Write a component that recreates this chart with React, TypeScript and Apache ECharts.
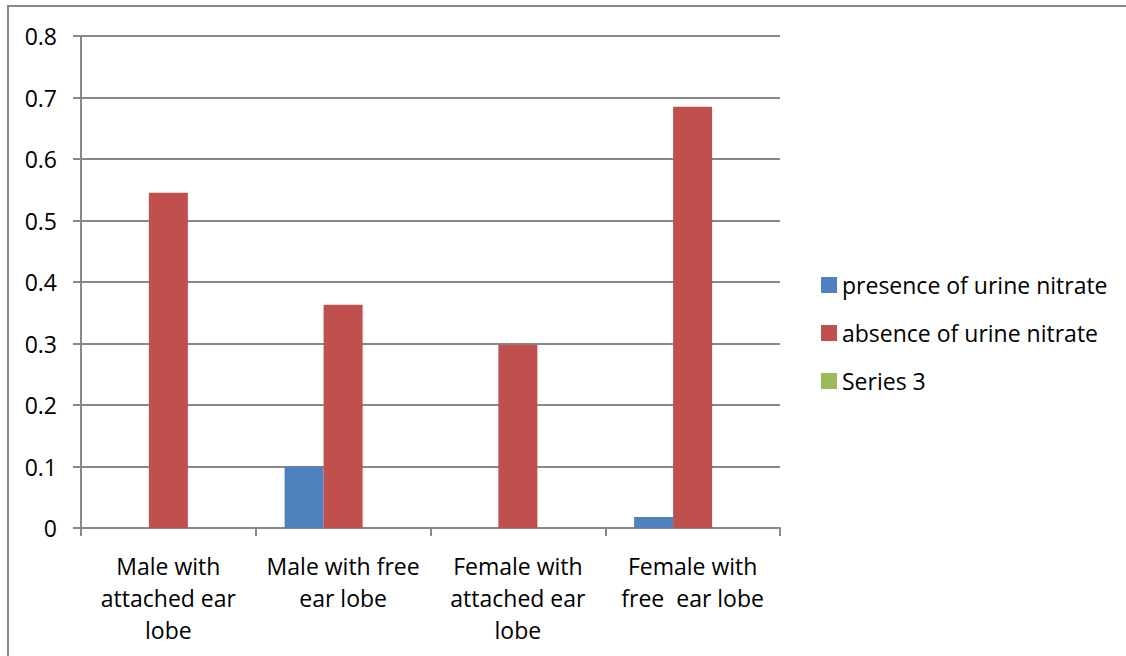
import React, { useEffect, useRef } from "react";
import * as echarts from "echarts";

const categories = [
  "Male with\nattached ear\nlobe",
  "Male with free\near lobe",
  "Female with\nattached ear\nlobe",
  "Female with\nfree  ear lobe",
];
const presence = [null, 0.1, null, 0.018];
const absence = [0.545, 0.363, 0.298, 0.685];
const series3 = [null, null, null, null];
const seriesNames = ["presence of urine nitrate", "absence of urine nitrate", "Series 3"];
const colors = ["#4F81BD", "#C0504D", "#9BBB59"];

const FONT = "Open Sans";
const FS = 23;

export default function App() {
  const ref = useRef<HTMLDivElement>(null);
  useEffect(() => {
    document.body.style.margin = "0";
    const chart = echarts.init(ref.current!, null, { renderer: "svg" });
    const axisColor = "#888888";
    chart.setOption({
      animation: false,
      backgroundColor: "#ffffff",
      textStyle: { fontFamily: FONT },
      graphic: [
        {
          type: "rect",
          shape: { x: 8, y: 6, width: 1300, height: 800 },
          style: { fill: "none", stroke: axisColor, lineWidth: 2 },
          silent: true,
          z: -10,
        },
      ],
      grid: { left: 81, right: 346, top: 36, bottom: 128, containLabel: false },
      legend: {
        orient: "vertical",
        left: 816,
        top: 268,
        padding: 5,
        itemWidth: 16,
        itemHeight: 16,
        itemGap: 24,
        itemTextGap: 10,
        icon: "rect",
        textStyle: { fontFamily: FONT, fontSize: FS, color: "#000", lineHeight: 24 },
        data: seriesNames,
      },
      xAxis: {
        type: "category",
        data: categories,
        axisLine: { lineStyle: { color: axisColor, width: 2 } },
        axisTick: { show: true, length: 8, lineStyle: { color: axisColor, width: 2 } },
        axisLabel: {
          interval: 0,
          margin: 22,
          fontFamily: FONT,
          fontSize: FS,
          color: "#000",
          lineHeight: 32,
          align: "center",
        },
      },
      yAxis: {
        type: "value",
        min: 0,
        max: 0.8,
        interval: 0.1,
        axisLine: { show: true, lineStyle: { color: axisColor, width: 2 } },
        axisTick: { show: true, length: 8, lineStyle: { color: axisColor, width: 2 } },
        splitLine: { show: true, lineStyle: { color: axisColor, width: 2 } },
        axisLabel: {
          margin: 24,
          fontFamily: FONT,
          fontSize: FS,
          color: "#000",
          formatter: (v: number) => (Math.round(v * 10) / 10).toString(),
        },
      },
      series: [
        { name: seriesNames[0], type: "bar", data: presence, itemStyle: { color: colors[0] }, barGap: "0%", barCategoryGap: "33%" },
        { name: seriesNames[1], type: "bar", data: absence, itemStyle: { color: colors[1] }, barGap: "0%", barCategoryGap: "33%" },
        { name: seriesNames[2], type: "bar", data: series3, itemStyle: { color: colors[2] }, barGap: "0%", barCategoryGap: "33%" },
      ],
    });
    return () => chart.dispose();
  }, []);
  return <div ref={ref} style={{ width: 1126, height: 656, position: "absolute", left: 0, top: 0 }} />;
}
